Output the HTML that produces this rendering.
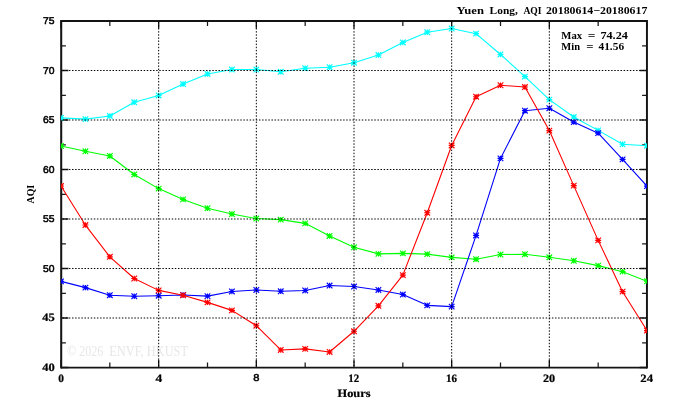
<!DOCTYPE html>
<html lang="en">
<head>
<meta charset="utf-8">
<title>Yuen Long, AQI 20180614-20180617</title>
<style>
html,body{margin:0;padding:0;background:#fff;}
body{width:674px;height:409px;overflow:hidden;}
svg{display:block;will-change:transform;}
</style>
</head>
<body>
<svg width="674" height="409" viewBox="0 0 674 409">
<rect width="674" height="409" fill="#fff"/>
<defs><clipPath id="pc"><rect x="61.00" y="21.00" width="586.00" height="346.50"/></clipPath></defs>
<text x="67.0" y="355.6" font-family="'Liberation Serif', serif" font-size="14.2" fill="#e7e7e7" lengthAdjust="spacingAndGlyphs" textLength="36.4">© 2026</text>
<text x="109.3" y="355.6" font-family="'Liberation Serif', serif" font-size="14.2" fill="#e7e7e7" lengthAdjust="spacingAndGlyphs" textLength="78.7">ENVF, HKUST</text>
<g stroke="#000" fill="none">
<path d="M61.00 367.50h7.40M647.00 367.50h-7.40" stroke-width="1.35" stroke="#1a1a1a"/>
<path d="M61.00 318.00h7.40M647.00 318.00h-7.40" stroke-width="1.35" stroke="#1a1a1a"/>
<path d="M61.00 268.50h7.40M647.00 268.50h-7.40" stroke-width="1.35" stroke="#1a1a1a"/>
<path d="M61.00 219.00h7.40M647.00 219.00h-7.40" stroke-width="1.35" stroke="#1a1a1a"/>
<path d="M61.00 169.50h7.40M647.00 169.50h-7.40" stroke-width="1.35" stroke="#1a1a1a"/>
<path d="M61.00 120.00h7.40M647.00 120.00h-7.40" stroke-width="1.35" stroke="#1a1a1a"/>
<path d="M61.00 70.50h7.40M647.00 70.50h-7.40" stroke-width="1.35" stroke="#1a1a1a"/>
<path d="M61.00 21.00h7.40M647.00 21.00h-7.40" stroke-width="1.35" stroke="#1a1a1a"/>
<path d="M61.00 342.75h4.90M647.00 342.75h-4.90" stroke-width="1.25" stroke="#1a1a1a"/>
<path d="M61.00 293.25h4.90M647.00 293.25h-4.90" stroke-width="1.25" stroke="#1a1a1a"/>
<path d="M61.00 243.75h4.90M647.00 243.75h-4.90" stroke-width="1.25" stroke="#1a1a1a"/>
<path d="M61.00 194.25h4.90M647.00 194.25h-4.90" stroke-width="1.25" stroke="#1a1a1a"/>
<path d="M61.00 144.75h4.90M647.00 144.75h-4.90" stroke-width="1.25" stroke="#1a1a1a"/>
<path d="M61.00 95.25h4.90M647.00 95.25h-4.90" stroke-width="1.25" stroke="#1a1a1a"/>
<path d="M61.00 45.75h4.90M647.00 45.75h-4.90" stroke-width="1.25" stroke="#1a1a1a"/>
<path d="M61.00 21.00v7.40M61.00 367.50v-7.40" stroke-width="1.35" stroke="#1a1a1a"/>
<path d="M158.67 21.00v7.40M158.67 367.50v-7.40" stroke-width="1.35" stroke="#1a1a1a"/>
<path d="M256.33 21.00v7.40M256.33 367.50v-7.40" stroke-width="1.35" stroke="#1a1a1a"/>
<path d="M354.00 21.00v7.40M354.00 367.50v-7.40" stroke-width="1.35" stroke="#1a1a1a"/>
<path d="M451.67 21.00v7.40M451.67 367.50v-7.40" stroke-width="1.35" stroke="#1a1a1a"/>
<path d="M549.33 21.00v7.40M549.33 367.50v-7.40" stroke-width="1.35" stroke="#1a1a1a"/>
<path d="M647.00 21.00v7.40M647.00 367.50v-7.40" stroke-width="1.35" stroke="#1a1a1a"/>
<path d="M109.83 21.00v4.90M109.83 367.50v-4.90" stroke-width="1.25" stroke="#1a1a1a"/>
<path d="M207.50 21.00v4.90M207.50 367.50v-4.90" stroke-width="1.25" stroke="#1a1a1a"/>
<path d="M305.17 21.00v4.90M305.17 367.50v-4.90" stroke-width="1.25" stroke="#1a1a1a"/>
<path d="M402.83 21.00v4.90M402.83 367.50v-4.90" stroke-width="1.25" stroke="#1a1a1a"/>
<path d="M500.50 21.00v4.90M500.50 367.50v-4.90" stroke-width="1.25" stroke="#1a1a1a"/>
<path d="M598.17 21.00v4.90M598.17 367.50v-4.90" stroke-width="1.25" stroke="#1a1a1a"/>
<path d="M61.20 20.10V368.60" stroke-width="2.05" stroke="#141414"/>
<path d="M646.95 20.10V368.60" stroke-width="1.95" stroke="#141414"/>
<path d="M61.00 21.00H647.00M61.00 367.70H647.00" stroke-width="1.8" stroke="#141414"/>
</g>
<g clip-path="url(#pc)">
<g stroke="#00ffff" fill="none">
<polyline points="61.00,117.92 85.42,119.11 109.83,115.94 134.25,102.28 158.67,95.45 183.08,84.06 207.50,73.96 231.92,69.51 256.33,69.51 280.75,71.79 305.17,68.22 329.58,67.23 354.00,62.68 378.42,55.06 402.83,42.48 427.25,32.19 451.67,28.52 476.08,33.67 500.50,54.46 524.92,76.64 549.33,99.61 573.75,117.03 598.17,130.39 622.58,144.26 647.00,145.74" stroke-width="1.1" stroke-linejoin="round"/>
<path d="M58.00 117.92h6.00M61.00 115.22v5.40M58.21 115.13l5.58 5.58M58.21 120.71l5.58 -5.58M82.42 119.11h6.00M85.42 116.41v5.40M82.63 116.32l5.58 5.58M82.63 121.90l5.58 -5.58M106.83 115.94h6.00M109.83 113.24v5.40M107.04 113.15l5.58 5.58M107.04 118.73l5.58 -5.58M131.25 102.28h6.00M134.25 99.58v5.40M131.46 99.49l5.58 5.58M131.46 105.07l5.58 -5.58M155.67 95.45h6.00M158.67 92.75v5.40M155.88 92.66l5.58 5.58M155.88 98.24l5.58 -5.58M180.08 84.06h6.00M183.08 81.36v5.40M180.29 81.27l5.58 5.58M180.29 86.85l5.58 -5.58M204.50 73.96h6.00M207.50 71.26v5.40M204.71 71.17l5.58 5.58M204.71 76.75l5.58 -5.58M228.92 69.51h6.00M231.92 66.81v5.40M229.13 66.72l5.58 5.58M229.13 72.30l5.58 -5.58M253.33 69.51h6.00M256.33 66.81v5.40M253.54 66.72l5.58 5.58M253.54 72.30l5.58 -5.58M277.75 71.79h6.00M280.75 69.09v5.40M277.96 69.00l5.58 5.58M277.96 74.58l5.58 -5.58M302.17 68.22h6.00M305.17 65.52v5.40M302.38 65.43l5.58 5.58M302.38 71.01l5.58 -5.58M326.58 67.23h6.00M329.58 64.53v5.40M326.79 64.44l5.58 5.58M326.79 70.02l5.58 -5.58M351.00 62.68h6.00M354.00 59.98v5.40M351.21 59.89l5.58 5.58M351.21 65.47l5.58 -5.58M375.42 55.06h6.00M378.42 52.36v5.40M375.63 52.27l5.58 5.58M375.63 57.85l5.58 -5.58M399.83 42.48h6.00M402.83 39.78v5.40M400.04 39.69l5.58 5.58M400.04 45.27l5.58 -5.58M424.25 32.19h6.00M427.25 29.49v5.40M424.46 29.40l5.58 5.58M424.46 34.98l5.58 -5.58M448.67 28.52h6.00M451.67 25.82v5.40M448.88 25.73l5.58 5.58M448.88 31.31l5.58 -5.58M473.08 33.67h6.00M476.08 30.97v5.40M473.29 30.88l5.58 5.58M473.29 36.46l5.58 -5.58M497.50 54.46h6.00M500.50 51.76v5.40M497.71 51.67l5.58 5.58M497.71 57.25l5.58 -5.58M521.92 76.64h6.00M524.92 73.94v5.40M522.13 73.85l5.58 5.58M522.13 79.43l5.58 -5.58M546.33 99.61h6.00M549.33 96.91v5.40M546.54 96.82l5.58 5.58M546.54 102.40l5.58 -5.58M570.75 117.03h6.00M573.75 114.33v5.40M570.96 114.24l5.58 5.58M570.96 119.82l5.58 -5.58M595.17 130.39h6.00M598.17 127.69v5.40M595.38 127.60l5.58 5.58M595.38 133.18l5.58 -5.58M619.58 144.26h6.00M622.58 141.56v5.40M619.79 141.47l5.58 5.58M619.79 147.05l5.58 -5.58M644.00 145.74h6.00M647.00 143.04v5.40M644.21 142.95l5.58 5.58M644.21 148.53l5.58 -5.58" stroke-width="1.15"/>
</g>
<g stroke="#00ff00" fill="none">
<polyline points="61.00,145.94 85.42,151.28 109.83,155.94 134.25,174.45 158.67,188.61 183.08,199.40 207.50,208.21 231.92,214.05 256.33,218.51 280.75,219.59 305.17,223.36 329.58,235.93 354.00,247.31 378.42,253.85 402.83,253.35 427.25,254.14 451.67,257.41 476.08,259.19 500.50,254.54 524.92,254.24 549.33,257.31 573.75,260.78 598.17,265.63 622.58,271.67 647.00,281.27" stroke-width="1.1" stroke-linejoin="round"/>
<path d="M58.00 145.94h6.00M61.00 143.24v5.40M58.21 143.15l5.58 5.58M58.21 148.73l5.58 -5.58M82.42 151.28h6.00M85.42 148.58v5.40M82.63 148.49l5.58 5.58M82.63 154.07l5.58 -5.58M106.83 155.94h6.00M109.83 153.24v5.40M107.04 153.15l5.58 5.58M107.04 158.73l5.58 -5.58M131.25 174.45h6.00M134.25 171.75v5.40M131.46 171.66l5.58 5.58M131.46 177.24l5.58 -5.58M155.67 188.61h6.00M158.67 185.91v5.40M155.88 185.82l5.58 5.58M155.88 191.40l5.58 -5.58M180.08 199.40h6.00M183.08 196.70v5.40M180.29 196.61l5.58 5.58M180.29 202.19l5.58 -5.58M204.50 208.21h6.00M207.50 205.51v5.40M204.71 205.42l5.58 5.58M204.71 211.00l5.58 -5.58M228.92 214.05h6.00M231.92 211.35v5.40M229.13 211.26l5.58 5.58M229.13 216.84l5.58 -5.58M253.33 218.51h6.00M256.33 215.81v5.40M253.54 215.72l5.58 5.58M253.54 221.30l5.58 -5.58M277.75 219.59h6.00M280.75 216.89v5.40M277.96 216.80l5.58 5.58M277.96 222.38l5.58 -5.58M302.17 223.36h6.00M305.17 220.66v5.40M302.38 220.57l5.58 5.58M302.38 226.15l5.58 -5.58M326.58 235.93h6.00M329.58 233.23v5.40M326.79 233.14l5.58 5.58M326.79 238.72l5.58 -5.58M351.00 247.31h6.00M354.00 244.61v5.40M351.21 244.52l5.58 5.58M351.21 250.10l5.58 -5.58M375.42 253.85h6.00M378.42 251.15v5.40M375.63 251.06l5.58 5.58M375.63 256.64l5.58 -5.58M399.83 253.35h6.00M402.83 250.65v5.40M400.04 250.56l5.58 5.58M400.04 256.14l5.58 -5.58M424.25 254.14h6.00M427.25 251.44v5.40M424.46 251.35l5.58 5.58M424.46 256.94l5.58 -5.58M448.67 257.41h6.00M451.67 254.71v5.40M448.88 254.62l5.58 5.58M448.88 260.20l5.58 -5.58M473.08 259.19h6.00M476.08 256.49v5.40M473.29 256.40l5.58 5.58M473.29 261.98l5.58 -5.58M497.50 254.54h6.00M500.50 251.84v5.40M497.71 251.75l5.58 5.58M497.71 257.33l5.58 -5.58M521.92 254.24h6.00M524.92 251.54v5.40M522.13 251.45l5.58 5.58M522.13 257.03l5.58 -5.58M546.33 257.31h6.00M549.33 254.61v5.40M546.54 254.52l5.58 5.58M546.54 260.10l5.58 -5.58M570.75 260.78h6.00M573.75 258.08v5.40M570.96 257.99l5.58 5.58M570.96 263.57l5.58 -5.58M595.17 265.63h6.00M598.17 262.93v5.40M595.38 262.84l5.58 5.58M595.38 268.42l5.58 -5.58M619.58 271.67h6.00M622.58 268.97v5.40M619.79 268.88l5.58 5.58M619.79 274.46l5.58 -5.58M644.00 281.27h6.00M647.00 278.57v5.40M644.21 278.48l5.58 5.58M644.21 284.06l5.58 -5.58" stroke-width="1.15"/>
</g>
<g stroke="#0000ff" fill="none">
<polyline points="61.00,281.37 85.42,287.61 109.83,295.23 134.25,296.22 158.67,295.73 183.08,294.93 207.50,296.12 231.92,291.47 256.33,289.98 280.75,291.27 305.17,290.48 329.58,285.53 354.00,286.52 378.42,289.98 402.83,294.54 427.25,305.33 451.67,306.62 476.08,235.43 500.50,158.41 524.92,110.69 549.33,108.22 573.75,122.08 598.17,133.17 622.58,159.40 647.00,186.13" stroke-width="1.1" stroke-linejoin="round"/>
<path d="M58.00 281.37h6.00M61.00 278.67v5.40M58.21 278.58l5.58 5.58M58.21 284.16l5.58 -5.58M82.42 287.61h6.00M85.42 284.91v5.40M82.63 284.82l5.58 5.58M82.63 290.40l5.58 -5.58M106.83 295.23h6.00M109.83 292.53v5.40M107.04 292.44l5.58 5.58M107.04 298.02l5.58 -5.58M131.25 296.22h6.00M134.25 293.52v5.40M131.46 293.43l5.58 5.58M131.46 299.01l5.58 -5.58M155.67 295.73h6.00M158.67 293.03v5.40M155.88 292.94l5.58 5.58M155.88 298.52l5.58 -5.58M180.08 294.93h6.00M183.08 292.23v5.40M180.29 292.14l5.58 5.58M180.29 297.72l5.58 -5.58M204.50 296.12h6.00M207.50 293.42v5.40M204.71 293.33l5.58 5.58M204.71 298.91l5.58 -5.58M228.92 291.47h6.00M231.92 288.77v5.40M229.13 288.68l5.58 5.58M229.13 294.26l5.58 -5.58M253.33 289.98h6.00M256.33 287.28v5.40M253.54 287.19l5.58 5.58M253.54 292.77l5.58 -5.58M277.75 291.27h6.00M280.75 288.57v5.40M277.96 288.48l5.58 5.58M277.96 294.06l5.58 -5.58M302.17 290.48h6.00M305.17 287.78v5.40M302.38 287.69l5.58 5.58M302.38 293.27l5.58 -5.58M326.58 285.53h6.00M329.58 282.83v5.40M326.79 282.74l5.58 5.58M326.79 288.32l5.58 -5.58M351.00 286.52h6.00M354.00 283.82v5.40M351.21 283.73l5.58 5.58M351.21 289.31l5.58 -5.58M375.42 289.98h6.00M378.42 287.28v5.40M375.63 287.19l5.58 5.58M375.63 292.77l5.58 -5.58M399.83 294.54h6.00M402.83 291.84v5.40M400.04 291.75l5.58 5.58M400.04 297.33l5.58 -5.58M424.25 305.33h6.00M427.25 302.63v5.40M424.46 302.54l5.58 5.58M424.46 308.12l5.58 -5.58M448.67 306.62h6.00M451.67 303.92v5.40M448.88 303.82l5.58 5.58M448.88 309.41l5.58 -5.58M473.08 235.43h6.00M476.08 232.73v5.40M473.29 232.64l5.58 5.58M473.29 238.22l5.58 -5.58M497.50 158.41h6.00M500.50 155.71v5.40M497.71 155.62l5.58 5.58M497.71 161.20l5.58 -5.58M521.92 110.69h6.00M524.92 107.99v5.40M522.13 107.90l5.58 5.58M522.13 113.48l5.58 -5.58M546.33 108.22h6.00M549.33 105.52v5.40M546.54 105.43l5.58 5.58M546.54 111.01l5.58 -5.58M570.75 122.08h6.00M573.75 119.38v5.40M570.96 119.29l5.58 5.58M570.96 124.87l5.58 -5.58M595.17 133.17h6.00M598.17 130.47v5.40M595.38 130.38l5.58 5.58M595.38 135.96l5.58 -5.58M619.58 159.40h6.00M622.58 156.70v5.40M619.79 156.61l5.58 5.58M619.79 162.19l5.58 -5.58M644.00 186.13h6.00M647.00 183.43v5.40M644.21 183.34l5.58 5.58M644.21 188.92l5.58 -5.58" stroke-width="1.15"/>
</g>
<g stroke="#ff0000" fill="none">
<polyline points="61.00,186.03 85.42,225.04 109.83,256.82 134.25,278.50 158.67,290.38 183.08,295.23 207.50,302.36 231.92,310.38 256.33,325.72 280.75,349.98 305.17,348.89 329.58,351.96 354.00,331.27 378.42,305.82 402.83,275.13 427.25,212.76 451.67,145.44 476.08,96.74 500.50,85.25 524.92,87.03 549.33,130.59 573.75,185.64 598.17,240.38 622.58,291.67 647.00,330.57" stroke-width="1.1" stroke-linejoin="round"/>
<path d="M58.00 186.03h6.00M61.00 183.33v5.40M58.21 183.24l5.58 5.58M58.21 188.82l5.58 -5.58M82.42 225.04h6.00M85.42 222.34v5.40M82.63 222.25l5.58 5.58M82.63 227.83l5.58 -5.58M106.83 256.82h6.00M109.83 254.12v5.40M107.04 254.03l5.58 5.58M107.04 259.61l5.58 -5.58M131.25 278.50h6.00M134.25 275.80v5.40M131.46 275.71l5.58 5.58M131.46 281.29l5.58 -5.58M155.67 290.38h6.00M158.67 287.68v5.40M155.88 287.59l5.58 5.58M155.88 293.17l5.58 -5.58M180.08 295.23h6.00M183.08 292.53v5.40M180.29 292.44l5.58 5.58M180.29 298.02l5.58 -5.58M204.50 302.36h6.00M207.50 299.66v5.40M204.71 299.57l5.58 5.58M204.71 305.15l5.58 -5.58M228.92 310.38h6.00M231.92 307.68v5.40M229.13 307.59l5.58 5.58M229.13 313.17l5.58 -5.58M253.33 325.72h6.00M256.33 323.02v5.40M253.54 322.93l5.58 5.58M253.54 328.51l5.58 -5.58M277.75 349.98h6.00M280.75 347.28v5.40M277.96 347.19l5.58 5.58M277.96 352.77l5.58 -5.58M302.17 348.89h6.00M305.17 346.19v5.40M302.38 346.10l5.58 5.58M302.38 351.68l5.58 -5.58M326.58 351.96h6.00M329.58 349.26v5.40M326.79 349.17l5.58 5.58M326.79 354.75l5.58 -5.58M351.00 331.27h6.00M354.00 328.57v5.40M351.21 328.48l5.58 5.58M351.21 334.06l5.58 -5.58M375.42 305.82h6.00M378.42 303.12v5.40M375.63 303.03l5.58 5.58M375.63 308.61l5.58 -5.58M399.83 275.13h6.00M402.83 272.43v5.40M400.04 272.34l5.58 5.58M400.04 277.92l5.58 -5.58M424.25 212.76h6.00M427.25 210.06v5.40M424.46 209.97l5.58 5.58M424.46 215.55l5.58 -5.58M448.67 145.44h6.00M451.67 142.74v5.40M448.88 142.65l5.58 5.58M448.88 148.23l5.58 -5.58M473.08 96.74h6.00M476.08 94.04v5.40M473.29 93.95l5.58 5.58M473.29 99.53l5.58 -5.58M497.50 85.25h6.00M500.50 82.55v5.40M497.71 82.46l5.58 5.58M497.71 88.04l5.58 -5.58M521.92 87.03h6.00M524.92 84.33v5.40M522.13 84.24l5.58 5.58M522.13 89.82l5.58 -5.58M546.33 130.59h6.00M549.33 127.89v5.40M546.54 127.80l5.58 5.58M546.54 133.38l5.58 -5.58M570.75 185.64h6.00M573.75 182.94v5.40M570.96 182.85l5.58 5.58M570.96 188.43l5.58 -5.58M595.17 240.38h6.00M598.17 237.68v5.40M595.38 237.59l5.58 5.58M595.38 243.17l5.58 -5.58M619.58 291.67h6.00M622.58 288.97v5.40M619.79 288.88l5.58 5.58M619.79 294.46l5.58 -5.58M644.00 330.57h6.00M647.00 327.87v5.40M644.21 327.78l5.58 5.58M644.21 333.36l5.58 -5.58" stroke-width="1.15"/>
</g>
</g>
<g stroke="#000" fill="none" stroke-width="1.0" stroke-dasharray="1.45 1.6662">
<line x1="62.69" y1="318.00" x2="646.00" y2="318.00"/>
<line x1="62.69" y1="268.50" x2="646.00" y2="268.50"/>
<line x1="62.69" y1="219.00" x2="646.00" y2="219.00"/>
<line x1="62.69" y1="169.50" x2="646.00" y2="169.50"/>
<line x1="62.69" y1="120.00" x2="646.00" y2="120.00"/>
<line x1="62.69" y1="70.50" x2="646.00" y2="70.50"/>
<line x1="158.67" y1="21.82" x2="158.67" y2="366.50"/>
<line x1="256.33" y1="21.82" x2="256.33" y2="366.50"/>
<line x1="354.00" y1="21.82" x2="354.00" y2="366.50"/>
<line x1="451.67" y1="21.82" x2="451.67" y2="366.50"/>
<line x1="549.33" y1="21.82" x2="549.33" y2="366.50"/>
</g>
<g fill="#000">
<text x="456.40" y="13.90" font-family="'Liberation Serif', serif" font-weight="bold" font-size="10.9" textLength="27.60" lengthAdjust="spacingAndGlyphs">Yuen</text>
<text x="489.60" y="13.90" font-family="'Liberation Serif', serif" font-weight="bold" font-size="10.9" textLength="28.20" lengthAdjust="spacingAndGlyphs">Long,</text>
<text x="523.40" y="13.90" font-family="'Liberation Serif', serif" font-weight="bold" font-size="10.9" textLength="18.20" lengthAdjust="spacingAndGlyphs">AQI</text>
<text x="545.90" y="13.90" font-family="'Liberation Serif', serif" font-weight="bold" font-size="10.9" textLength="101.50" lengthAdjust="spacingAndGlyphs">20180614−20180617</text>
<text x="561.30" y="38.90" font-family="'Liberation Serif', serif" font-weight="bold" font-size="10.9" textLength="20.80" lengthAdjust="spacingAndGlyphs">Max</text>
<text x="587.70" y="39.10" font-family="'Liberation Serif', serif" font-weight="bold" font-size="10.9" textLength="7.70" lengthAdjust="spacingAndGlyphs">=</text>
<text x="600.40" y="38.90" font-family="'Liberation Serif', serif" font-weight="bold" font-size="10.9" textLength="27.50" lengthAdjust="spacingAndGlyphs">74.24</text>
<text x="561.30" y="49.90" font-family="'Liberation Serif', serif" font-weight="bold" font-size="10.9" textLength="18.70" lengthAdjust="spacingAndGlyphs">Min</text>
<text x="586.20" y="50.10" font-family="'Liberation Serif', serif" font-weight="bold" font-size="10.9" textLength="7.30" lengthAdjust="spacingAndGlyphs">=</text>
<text x="598.50" y="49.90" font-family="'Liberation Serif', serif" font-weight="bold" font-size="10.9" textLength="25.60" lengthAdjust="spacingAndGlyphs">41.56</text>
<text x="42.90" y="24.05" font-family="'Liberation Sans', sans-serif" stroke="#000" stroke-width="0.5" text-rendering="geometricPrecision" font-size="9.9" textLength="11.50" lengthAdjust="spacingAndGlyphs">75</text>
<text x="42.90" y="73.55" font-family="'Liberation Sans', sans-serif" stroke="#000" stroke-width="0.5" text-rendering="geometricPrecision" font-size="9.9" textLength="11.50" lengthAdjust="spacingAndGlyphs">70</text>
<text x="42.90" y="123.05" font-family="'Liberation Sans', sans-serif" stroke="#000" stroke-width="0.5" text-rendering="geometricPrecision" font-size="9.9" textLength="11.50" lengthAdjust="spacingAndGlyphs">65</text>
<text x="42.90" y="172.55" font-family="'Liberation Sans', sans-serif" stroke="#000" stroke-width="0.5" text-rendering="geometricPrecision" font-size="9.9" textLength="11.50" lengthAdjust="spacingAndGlyphs">60</text>
<text x="42.90" y="222.05" font-family="'Liberation Sans', sans-serif" stroke="#000" stroke-width="0.5" text-rendering="geometricPrecision" font-size="9.9" textLength="11.50" lengthAdjust="spacingAndGlyphs">55</text>
<text x="42.90" y="271.55" font-family="'Liberation Sans', sans-serif" stroke="#000" stroke-width="0.5" text-rendering="geometricPrecision" font-size="9.9" textLength="11.50" lengthAdjust="spacingAndGlyphs">50</text>
<text x="42.20" y="321.30" font-family="'Liberation Serif', serif" font-weight="bold" stroke="#000" stroke-width="0.22" text-rendering="geometricPrecision" font-size="11.3" textLength="12.50" lengthAdjust="spacingAndGlyphs">45</text>
<text x="42.20" y="370.80" font-family="'Liberation Serif', serif" font-weight="bold" stroke="#000" stroke-width="0.22" text-rendering="geometricPrecision" font-size="11.3" textLength="12.50" lengthAdjust="spacingAndGlyphs">40</text>
<text x="58.30" y="381.70" font-family="'Liberation Serif', serif" font-weight="bold" stroke="#000" stroke-width="0.22" text-rendering="geometricPrecision" font-size="11.3" textLength="5.70" lengthAdjust="spacingAndGlyphs">0</text>
<text x="155.60" y="381.70" font-family="'Liberation Serif', serif" font-weight="bold" stroke="#000" stroke-width="0.22" text-rendering="geometricPrecision" font-size="11.3" textLength="6.70" lengthAdjust="spacingAndGlyphs">4</text>
<text x="348.25" y="381.70" font-family="'Liberation Serif', serif" font-weight="bold" stroke="#000" stroke-width="0.22" text-rendering="geometricPrecision" font-size="11.3" textLength="10.95" lengthAdjust="spacingAndGlyphs">12</text>
<text x="445.90" y="381.70" font-family="'Liberation Serif', serif" font-weight="bold" stroke="#000" stroke-width="0.22" text-rendering="geometricPrecision" font-size="11.3" textLength="11.00" lengthAdjust="spacingAndGlyphs">16</text>
<text x="543.00" y="381.70" font-family="'Liberation Serif', serif" font-weight="bold" stroke="#000" stroke-width="0.22" text-rendering="geometricPrecision" font-size="11.3" textLength="12.20" lengthAdjust="spacingAndGlyphs">20</text>
<text x="640.30" y="381.70" font-family="'Liberation Serif', serif" font-weight="bold" stroke="#000" stroke-width="0.22" text-rendering="geometricPrecision" font-size="11.3" textLength="12.70" lengthAdjust="spacingAndGlyphs">24</text>
<text x="253.20" y="381.30" font-family="'Liberation Sans', sans-serif" stroke="#000" stroke-width="0.5" text-rendering="geometricPrecision" font-size="9.9" textLength="6.20" lengthAdjust="spacingAndGlyphs">8</text>
<text x="337.60" y="396.80" font-family="'Liberation Serif', serif" font-weight="bold" stroke="#000" stroke-width="0.22" text-rendering="geometricPrecision" font-size="11.3" textLength="32.90" lengthAdjust="spacingAndGlyphs">Hours</text>
<text transform="translate(33.8 203.4) rotate(-90)" font-family="'Liberation Serif', serif" font-weight="bold" font-size="10.9" textLength="18.6" lengthAdjust="spacingAndGlyphs">AQI</text>
</g>
</svg>
</body>
</html>
